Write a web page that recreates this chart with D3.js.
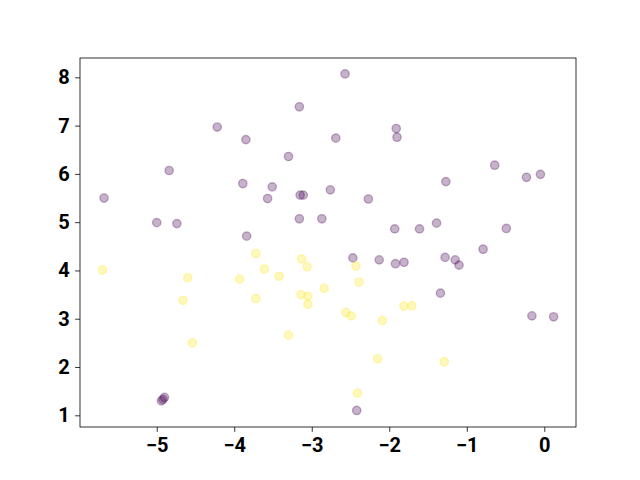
<!DOCTYPE html>
<html><head><meta charset="utf-8">
<script src="https://cdn.jsdelivr.net/npm/d3@7"></script>
<style>body{margin:0;background:#fff}svg{display:block}</style>
</head><body>
<script>
const purpleX = [-3.16,-4.22,-3.85,-3.30,-4.84,-3.89,-3.51,-3.57,-3.15,-3.11,-5.68,-5.00,-4.74,-3.16,-3.84,
  -2.57,-1.91,-1.90,-2.69,-0.64,-0.23,-0.05,-1.27,-2.76,-2.27,-2.87,-1.93,-1.61,-1.39,-0.49,
  -2.47,-2.13,-1.92,-1.81,-1.28,-1.15,-1.10,-0.79,-1.34,-0.16,0.12,-2.42,
  -4.94,-4.92,-4.90];
const purpleY = [7.39,6.97,6.71,6.36,6.07,5.80,5.73,5.49,5.56,5.56,5.50,4.99,4.97,5.07,4.71,
  8.07,6.94,6.76,6.74,6.18,5.93,5.99,5.84,5.67,5.48,5.07,4.86,4.86,4.98,4.87,
  4.26,4.22,4.14,4.17,4.27,4.22,4.11,4.44,3.53,3.06,3.04,1.10,
  1.30,1.33,1.37];
const yellowX = [-5.70,-4.60,-4.66,-4.54,-3.72,-3.61,-3.93,-3.42,-3.72,-3.13,-3.06,-2.84,-3.14,-3.05,-3.05,-3.30,
  -2.43,-2.39,-2.56,-2.49,-2.09,-1.81,-1.71,-2.15,-1.29,-2.41];
const yellowY = [4.01,3.85,3.38,2.50,4.35,4.03,3.82,3.88,3.42,4.24,4.08,3.63,3.50,3.47,3.30,2.66,
  4.09,3.76,3.13,3.06,2.96,3.26,3.27,2.17,2.11,1.46];
const xTicks = [-5,-4,-3,-2,-1,0];
const yTicks = [1,2,3,4,5,6,7,8];

const W = 640, H = 480;
const m = {l:80, r:576, t:58, b:427};
const svg = d3.select("body").append("svg").attr("width",W).attr("height",H);
const x = d3.scaleLinear().domain([-5.99,0.409]).range([m.l,m.r]);
const y = d3.scaleLinear().domain([0.758,8.40]).range([m.b,m.t]);

const pts = [];
purpleX.forEach((v,i)=>pts.push({x:v,y:purpleY[i],c:"#440154"}));
yellowX.forEach((v,i)=>pts.push({x:v,y:yellowY[i],c:"#fde725"}));
svg.append("g").selectAll("circle").data(pts).join("circle")
  .attr("cx",d=>x(d.x)).attr("cy",d=>y(d.y)).attr("r",4.17)
  .attr("fill",d=>d.c).attr("fill-opacity",0.3)
  .attr("stroke",d=>d.c).attr("stroke-opacity",0.3).attr("stroke-width",1.39);

const font = "Roboto, 'DejaVu Sans', sans-serif";
const xa = svg.append("g").attr("transform",`translate(0,${m.b})`)
  .call(d3.axisBottom(x).tickValues(xTicks).tickSize(4.86).tickPadding(6).tickFormat(d=>d<0?"\u2212"+Math.abs(d):d));
const ya = svg.append("g").attr("transform",`translate(${m.l},0)`)
  .call(d3.axisLeft(y).tickValues(yTicks).tickSize(4.86).tickPadding(5.5));
[xa,ya].forEach(a=>{
  a.select(".domain").remove();
  a.selectAll("line").attr("stroke","#000").attr("stroke-width",0.8);
  a.selectAll("text").attr("fill","#000").style("font-family",font).style("font-size","20px").style("font-weight","bold");
});
svg.append("rect").attr("x",m.l).attr("y",m.t).attr("width",m.r-m.l).attr("height",m.b-m.t)
  .attr("fill","none").attr("stroke","#000").attr("stroke-width",0.8);
</script>
</body></html>
